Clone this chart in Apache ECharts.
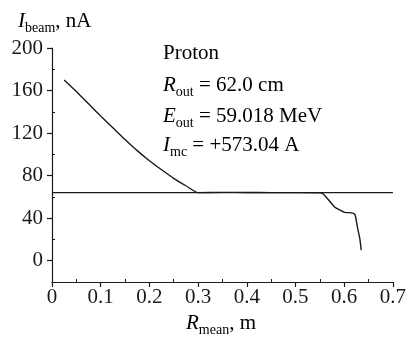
<!DOCTYPE html>
<html><head><meta charset="utf-8">
<script src="https://cdn.jsdelivr.net/npm/echarts@6/dist/echarts.min.js"></script>
<style>html,body{margin:0;padding:0;background:#fff}#c{width:409px;height:345px}</style>
</head><body><div id="c"></div>
<script>
// Data
const curveR = [0.025,0.05,0.075,0.1,0.125,0.15,0.175,0.2,0.225,0.25,0.275,0.3,0.35,0.4,0.45,0.5,0.55,0.557,0.571,0.581,0.591,0.601,0.615,0.622,0.627,0.632,0.635];
const curveI = [170,159,147.5,136,125,114,103.5,94,85.5,77.5,70.5,64,64.3,64.2,64,64,63.8,62.7,55.5,50.2,47.7,45.5,45,43.6,32,21,10];
const levelR = [0, 0.7];
const levelI = [64, 64];
const yMajorTicks = [0,40,80,120,160,200];
const yMinorTicks = [-20,20,60,100,140,180];
const xMajorTicks = [0,0.1,0.2,0.3,0.4,0.5,0.6,0.7];
const xMinorTicks = [0.05,0.15,0.25,0.35,0.45,0.55,0.65];
const infoLines = ['Proton', ['R','out',' = 62.0 cm'], ['E','out',' = 59.018 MeV'], ['I','mc',' = +573.04 A']];

const C = '#1a1a1a';
const F = 'Liberation Serif';
const rich = {
  v: {fontFamily:F, fontSize:21, fontStyle:'italic', lineHeight:20, verticalAlign:'top', color:C},
  s: {fontFamily:F, fontSize:14, lineHeight:34, verticalAlign:'middle', color:C},
  n: {fontFamily:F, fontSize:21, lineHeight:20, verticalAlign:'top', color:C}
};
function richText(parts){
  if (typeof parts === 'string') return '{n|' + parts + '}';
  return '{v|' + parts[0] + '}{s|' + parts[1] + '}{n|' + parts[2] + '}';
}
const infoY = [43, 75, 106, 135];
const graphics = infoLines.map((p,i)=>({
  type:'text', left:163, top:infoY[i],
  style:{text:richText(p), rich:rich}
}));
graphics.push({type:'text', left:18, top:11, style:{text:richText(['I','beam',', nA']), rich:rich}});
graphics.push({type:'text', left:186, top:313, style:{text:richText(['R','mean',', m']), rich:rich}});

const axisFont = {fontFamily:F, fontSize:21, color:C};
const chart = echarts.init(document.getElementById('c'), null, {renderer:'canvas'});
chart.setOption({
  animation:false,
  backgroundColor:'#fff',
  grid:{left:52, top:48, right:14, bottom:63, containLabel:false},
  xAxis:[{
    type:'value', min:0, max:0.7, interval:0.1,
    axisLine:{show:true, onZero:false, lineStyle:{color:C, width:1.2}},
    axisTick:{show:true, length:5, lineStyle:{color:C, width:1.2}, customValues:xMajorTicks},
    axisLabel:{...axisFont, margin:5, customValues:xMajorTicks, formatter:v=>String(+v.toFixed(2))},
    splitLine:{show:false}
  },{
    type:'value', min:0, max:0.7, position:'bottom',
    axisLine:{show:false, onZero:false},
    axisTick:{show:true, inside:true, length:3, lineStyle:{color:C, width:1}, customValues:xMinorTicks},
    axisLabel:{show:false}, splitLine:{show:false}
  }],
  yAxis:[{
    type:'value', min:-20, max:200,
    axisLine:{show:true, onZero:false, lineStyle:{color:C, width:1.2}},
    axisTick:{show:true, length:5, lineStyle:{color:C, width:1.2}, customValues:yMajorTicks},
    axisLabel:{...axisFont, margin:9, customValues:yMajorTicks},
    splitLine:{show:false}
  },{
    type:'value', min:-20, max:200, position:'left',
    axisLine:{show:false, onZero:false},
    axisTick:{show:true, inside:true, length:3, lineStyle:{color:C, width:1}, customValues:yMinorTicks},
    axisLabel:{show:false}, splitLine:{show:false}
  }],
  series:[{
    type:'line', xAxisIndex:0, yAxisIndex:0, symbol:'none',
    data: levelR.map((r,i)=>[r, levelI[i]]),
    lineStyle:{color:C, width:1.2}
  },{
    type:'line', xAxisIndex:0, yAxisIndex:0, symbol:'none', smooth:0.2,
    data: curveR.map((r,i)=>[r, curveI[i]]),
    lineStyle:{color:C, width:1.4}
  }],
  graphic: graphics
});
</script></body></html>
